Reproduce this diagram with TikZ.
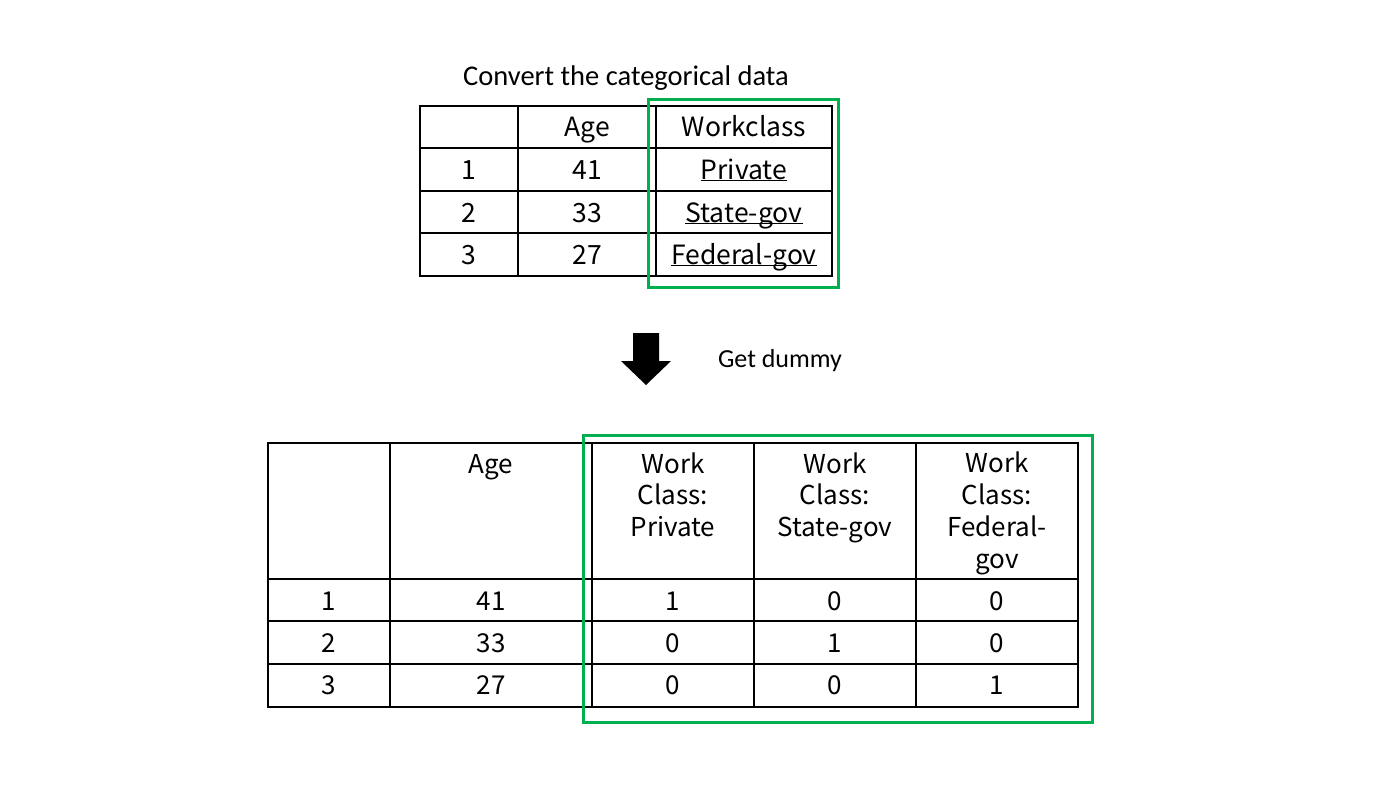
\documentclass[tikz,border=0pt]{standalone}
\usepackage{fontspec}
\setmainfont{Carlito}
\newfontfamily\tabfont{Noto Sans CJK JP}
\definecolor{boxgreen}{RGB}{0,176,80}
\newcommand{\uline}[1]{\underline{\smash{#1}}}

\begin{document}
\begin{tikzpicture}[line cap=rect,line join=miter,x=1pt,y=-1pt,
	grid/.style={line width=1.4pt,color=black},
	mark box/.style={line width=3pt,color=boxgreen},
	toptext/.style={anchor=base,inner sep=0pt,font=\tabfont\fontsize{26.5}{30}\selectfont},
	bottext/.style={anchor=base,inner sep=0pt,align=center,font=\tabfont\fontsize{26}{31.7}\selectfont},
	caption/.style={anchor=base,inner sep=0pt,font=\fontsize{26}{30}\selectfont}]
	\useasboundingbox (0,0) rectangle (1400,788);
	% first table
	\node[caption,font=\fontsize{28.5}{30}\selectfont] (title) at (626,85) {Convert the categorical data};
	\draw [grid] (420,106) rectangle (832,276);
	\draw [grid] (518,106)-- (518,276);
	\draw [grid] (656,106)-- (656,276);
	\draw [grid] (420,148)-- (832,148);
	\draw [grid] (420,191)-- (832,191);
	\draw [grid] (420,233)-- (832,233);
	\node[toptext] (tage) at (587,136) {Age};
	\node[toptext] (twork) at (744,136) {Workclass};
	\node[toptext] (tn1) at (469,179) {1};
	\node[toptext] (ta1) at (587,179) {41};
	\node[toptext] (tw1) at (744,179) {\uline{Private}};
	\node[toptext] (tn2) at (469,222) {2};
	\node[toptext] (ta2) at (587,222) {33};
	\node[toptext] (tw2) at (744,222) {\uline{State-gov}};
	\node[toptext] (tn3) at (469,264) {3};
	\node[toptext] (ta3) at (587,264) {27};
	\node[toptext] (tw3) at (744,264) {\uline{Federal-gov}};
	\draw [mark box] (648,99) rectangle (838,287);
	% arrow
	\fill [black] (633,333)-- (659,333)-- (659,361)-- (671,361)-- (646,385)-- (621,361)-- (633,361)-- cycle;
	\node[caption] (dummy) at (780,367) {Get dummy};
	% second table
	\draw [grid] (268,443) rectangle (1078,707);
	\draw [grid] (390,443)-- (390,707);
	\draw [grid] (592,443)-- (592,707);
	\draw [grid] (754,443)-- (754,707);
	\draw [grid] (916,443)-- (916,707);
	\draw [grid] (268,579)-- (1078,579);
	\draw [grid] (268,621)-- (1078,621);
	\draw [grid] (268,664)-- (1078,664);
	% base of a multi-line node is its last line
	\node[bottext] (bage) at (491,473) {Age};
	\node[bottext] (bpriv) at (673,536.5) {Work\\Class:\\Private};
	\node[bottext] (bstate) at (835,536.5) {Work\\Class:\\State-gov};
	\node[bottext] (bfed) at (997,568) {Work\\Class:\\Federal-\\gov};
	\node[bottext] (bn1) at (329,610) {1};
	\node[bottext] (ba1) at (491,610) {41};
	\node[bottext] (bp1) at (673,610) {1};
	\node[bottext] (bs1) at (835,610) {0};
	\node[bottext] (bf1) at (997,610) {0};
	\node[bottext] (bn2) at (329,652) {2};
	\node[bottext] (ba2) at (491,652) {33};
	\node[bottext] (bp2) at (673,652) {0};
	\node[bottext] (bs2) at (835,652) {1};
	\node[bottext] (bf2) at (997,652) {0};
	\node[bottext] (bn3) at (329,694) {3};
	\node[bottext] (ba3) at (491,694) {27};
	\node[bottext] (bp3) at (673,694) {0};
	\node[bottext] (bs3) at (835,694) {0};
	\node[bottext] (bf3) at (997,694) {1};
	\draw [mark box] (583,435) rectangle (1092,722);
\end{tikzpicture}
\end{document}
